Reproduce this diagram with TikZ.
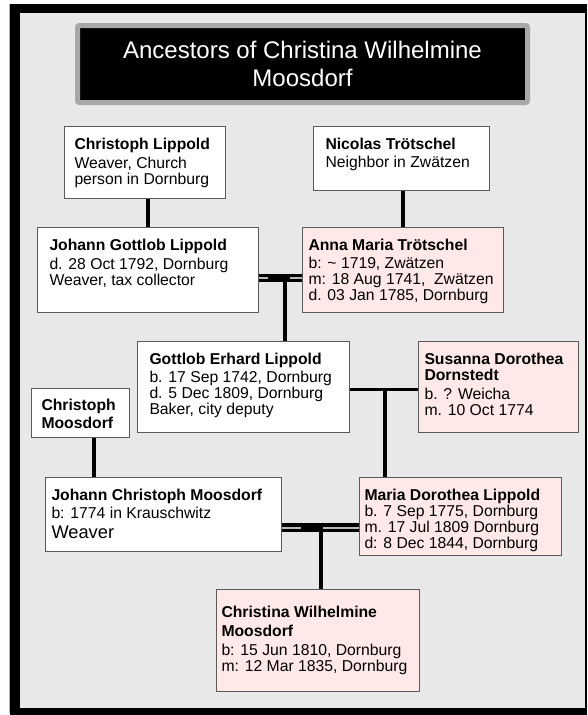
\documentclass[tikz,border=0pt]{standalone}
\usepackage{fontspec}
\setmainfont{Liberation Sans}
\usetikzlibrary{positioning,calc}

\definecolor{pagebg}{RGB}{232,232,232}
\definecolor{cardpink}{RGB}{255,232,232}
\definecolor{cardline}{RGB}{90,90,90}
\definecolor{titlerim}{RGB}{168,168,168}
\newcommand{\cardfont}{\fontsize{11.8}{12}\selectfont}
\newcommand{\titlefont}{\fontsize{18}{20.5}\selectfont}

\begin{document}
\begin{tikzpicture}[x=0.75pt,y=-0.75pt,
    card/.style={rectangle, draw=cardline, line width=0.75pt, fill=white, anchor=north west, inner xsep=9pt, inner ysep=9pt, font=\cardfont},
    kincard/.style={card, fill=cardpink},
    headbox/.style={rectangle, fill=black, draw=titlerim, line width=3.75pt, rounded corners=1.5pt, text=white, align=center, font=\titlefont, minimum width=337.5pt, minimum height=57.75pt},
    descent/.style={line width=3pt},
    wedlock/.style={line width=2.6pt, double=gray!55, double distance=1.5pt},
    weldbar/.style={line width=6.7pt}]

    \useasboundingbox (0,0) rectangle (587,715);
    % frame
    \fill (10,4) rectangle (587,715);
    \fill[pagebg] (20,13) rectangle (584.5,708);
    \draw[gray!60, line width=0.75pt] (9,4) -- (9,713);

    \node[headbox] (head) at (302.5,64) {Ancestors of Christina Wilhelmine\\Moosdorf};

    % great-grandparents
    \node[card, inner xsep=7.5pt] (cl) at (64,126) {\parbox[t][36pt][t]{105.75pt}{\raggedright\textbf{Christoph Lippold}\\[2pt]Weaver, Church\\person in Dornburg}};
    \node[card] (nt) at (313,126) {\parbox[t][30pt][t]{114pt}{\raggedright\textbf{Nicolas Trötschel}\\[1.5pt]Neighbor in Zwätzen}};

    % grandparents
    \node[card] (jgl) at (37,227) {\parbox[t][45.75pt][t]{147.75pt}{\raggedright\textbf{Johann Gottlob Lippold}\\[2pt]d. 28 Oct 1792, Dornburg\\Weaver, tax collector}};
    \node[kincard, inner xsep=4.5pt] (amt) at (302,227) {\parbox[t][45.75pt][t]{141.75pt}{\raggedright\textbf{Anna Maria Trötschel}\\[1.5pt]b: \textasciitilde{} 1719, Zwätzen\\m: 18 Aug 1741, \ Zwätzen\\d. 03 Jan 1785, Dornburg}};

    % parents of the mother
    \node[card] (gel) at (137,341) {\parbox[t][50.25pt][t]{141pt}{\raggedright\textbf{Gottlob Erhard Lippold}\\[1.5pt]b. 17 Sep 1742, Dornburg\\d. 5 Dec 1809, Dornburg\\Baker, city deputy}};
    \node[kincard, inner xsep=4.5pt] (sdd) at (418,341) {\parbox[t][50.25pt][t]{111pt}{\raggedright\textbf{Susanna Dorothea}\\\textbf{Dornstedt}\\[2pt]b. ? Weicha\\m. 10 Oct 1774}};
    \node[card, inner xsep=7.5pt, inner ysep=8.25pt] (cm) at (31,388) {\parbox[t][20.25pt][t]{58.5pt}{\raggedright\textbf{Christoph}\\[1.5pt]\textbf{Moosdorf}}};

    % parents
    \node[card, inner xsep=4.5pt] (jcm) at (45,477) {\parbox[t][37.5pt][t]{168pt}{\raggedright\textbf{Johann Christoph Moosdorf}\\[1pt]b: 1774 in Krauschwitz\\[3pt]{\fontsize{13.7}{12}\selectfont Weaver}}};
    \node[kincard, inner xsep=3.75pt] (mdl) at (359,477) {\parbox[t][40.5pt][t]{144pt}{\raggedright\textbf{Maria Dorothea Lippold}\\b. 7 Sep 1775, Dornburg\\m. 17 Jul 1809 Dornburg\\d: 8 Dec 1844, Dornburg}};

    % proband
    \node[kincard, inner xsep=3.75pt, inner ysep=12.75pt] (cwm) at (216,589) {\parbox[t][51pt][t]{144.75pt}{\raggedright\textbf{Christina Wilhelmine}\\[2.25pt]\textbf{Moosdorf}\\[2.25pt]b: 15 Jun 1810, Dornburg\\m: 12 Mar 1835, Dornburg}};

    % lines
    \draw[descent] (jgl.north |- cl.south) -- (jgl.north);
    \draw[descent] (amt.north |- nt.south) -- (amt.north);

    \coordinate (w1) at ([yshift=-6pt]jgl.east);
    \coordinate (c1) at ($(w1)!0.6!(w1 -| amt.west)$);
    \draw[wedlock] (w1) -- (w1 -| amt.west);
    \draw[weldbar] ([xshift=-12.75pt]c1) -- ([xshift=3.75pt]c1);
    \draw[descent] (c1) -- (c1 |- gel.north);

    \coordinate (w2) at ([yshift=-1.9pt]gel.east);
    \coordinate (c2) at ($(w2)!0.52!(w2 -| sdd.west)$);
    \draw[descent, line width=2.6pt] (w2) -- (w2 -| sdd.west);
    \draw[descent] (c2) -- (c2 |- mdl.north);

    \coordinate (c3) at ([xshift=10pt]cm.south);
    \draw[descent] (c3) -- (c3 |- jcm.north);

    \coordinate (w4) at ([yshift=-9.75pt]jcm.east);
    \coordinate (c4) at ($(w4)!0.5!(w4 -| mdl.west)$);
    \draw[wedlock] (w4) -- (w4 -| mdl.west);
    \draw[weldbar] ([xshift=-15pt]c4) -- ([xshift=2pt]c4);
    \draw[descent] (c4) -- (c4 |- cwm.north);
\end{tikzpicture}
\end{document}
